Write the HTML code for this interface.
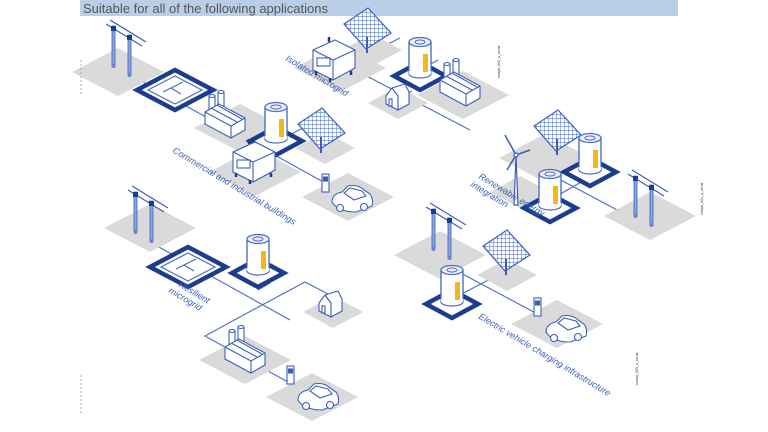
<!DOCTYPE html>
<html><head><meta charset="utf-8"><style>
html,body{margin:0;padding:0;background:#fff;}
svg{display:block;}
text{font-family:"Liberation Sans",sans-serif;}
</style></head><body>
<svg width="768" height="432" viewBox="0 0 768 432" xmlns="http://www.w3.org/2000/svg">
<defs>
  <pattern id="grid" width="4" height="4" patternUnits="userSpaceOnUse">
    <rect width="4" height="4" fill="#fff"/>
    <path d="M0 0H4M0 0V4" stroke="#3b5fb8" stroke-width="0.9"/>
  </pattern>
  <g id="tile"><polygon points="-46,0 0,-24 46,0 0,24" fill="#dadada"/></g>
  <g id="stile"><polygon points="-30,0 0,-16 30,0 0,16" fill="#dadada"/></g>
  <g id="switch">
    <polygon points="-38,0 0,-20 38,0 0,20" fill="#fff" stroke="#1c3c8e" stroke-width="4.5"/>
    <polygon points="-27,0 0,-14 27,0 0,14" fill="#fff" stroke="#4a6cc0" stroke-width="1.2"/>
    <path d="M-12,2 L-4,-2 L6,4 M-4,-2 L8,-8" stroke="#4a6cc0" stroke-width="1.2" fill="none"/>
  </g>
  <g id="battery">
    <polygon points="-26,0 0,-14 26,0 0,14" fill="#fff" stroke="#1c3c8e" stroke-width="4.5"/>
    <rect x="-11" y="-34" width="22" height="32" fill="#fff" stroke="#4a6cc0" stroke-width="1.2"/>
    <ellipse cx="0" cy="-2" rx="11" ry="4" fill="#fff" stroke="#4a6cc0" stroke-width="1.2"/>
    <rect x="-11" y="-12" width="22" height="10" fill="#fff"/>
    <ellipse cx="0" cy="-34" rx="11" ry="4.5" fill="#eef" stroke="#4a6cc0" stroke-width="1.2"/>
    <ellipse cx="0" cy="-34" rx="5" ry="2" fill="none" stroke="#4a6cc0" stroke-width="1"/>
    <rect x="3" y="-22" width="5" height="18" fill="#f2b817"/>
    <path d="M-11,-34 V-5 M11,-34 V-5" stroke="#4a6cc0" stroke-width="1.2"/>
  </g>
  <g id="solar">
    <polygon points="-22,-16 2,-32 25,-7 0,9" fill="url(#grid)" stroke="#3b5fb8" stroke-width="1.2"/>
    <path d="M1,-3 V13" stroke="#3b5fb8" stroke-width="2"/>
  </g>
  <g id="pole">
    <path d="M-14,-18 L22,4" stroke="#3b5fb8" stroke-width="1.2"/>
    <path d="M-10,-22 L26,0" stroke="#3b5fb8" stroke-width="1.2"/>
    <rect x="-8" y="-16" width="3" height="40" fill="#8ea6d8" stroke="#3b5fb8" stroke-width="0.8"/>
    <rect x="8" y="-7" width="3" height="40" fill="#8ea6d8" stroke="#3b5fb8" stroke-width="0.8"/>
    <path d="M-9,-16 h5 v5 h-5z M7,-7 h5 v5 h-5z" fill="#1c3c8e"/>
    <circle cx="-6.5" cy="24" r="2" fill="#6c84c4"/><circle cx="9.5" cy="33" r="2" fill="#6c84c4"/>
  </g>
  <g id="factory" fill="#fff" stroke="#3b5fb8" stroke-width="1.1">
    <rect x="-16" y="-24" width="6" height="14"/><ellipse cx="-13" cy="-24" rx="3" ry="1.5"/>
    <rect x="-7" y="-28" width="6" height="16"/><ellipse cx="-4" cy="-28" rx="3" ry="1.5"/>
    <polygon points="-20,-8 -6,-16 20,-2 20,10 6,18 -20,4"/>
    <path d="M-20,-8 L6,6 L20,-2 M6,6 V18 M-14,-12 L12,2 M-8,-15 L17,-1"/>
  </g>
  <g id="gen" fill="#fff" stroke="#3b5fb8" stroke-width="1.1">
    <polygon points="-20,-14 2,-24 22,-14 22,4 0,16 -20,6"/>
    <path d="M-20,-14 L0,-4 L22,-14 M0,-4 V16"/>
    <rect x="-16" y="-6" width="13" height="8" fill="none"/>
    <path d="M-4,-22 v-5" stroke="#1c3c8e" stroke-width="2.5"/>
    <path d="M-17,7 v4 M-3,14 v4 M18,7 v4" stroke="#1c3c8e" stroke-width="2.5"/>
  </g>
  <g id="house" fill="#fff" stroke="#3b5fb8" stroke-width="1.1">
    <polygon points="-9,-4 -3,-12 3,-4 3,10 -9,4"/>
    <polygon points="3,-4 -3,-12 10,-16 14,-8 14,4 3,10"/>
    <rect x="-6" y="-1" width="3" height="7"/>
  </g>
  <g id="car" fill="#fff" stroke="#3b5fb8" stroke-width="1.1">
    <path d="M-20,2 Q-20,-6 -10,-8 L-4,-14 Q6,-16 12,-10 L18,-6 Q22,0 20,6 L4,12 Q-14,12 -20,2Z"/>
    <path d="M-8,-7 L-2,-12 L10,-9 L14,-4 L2,0Z"/>
    <circle cx="-12" cy="8" r="3.5"/><circle cx="12" cy="7" r="3.5"/>
  </g>
  <g id="charger" fill="#fff" stroke="#3b5fb8" stroke-width="1.1">
    <rect x="-3" y="-14" width="7" height="18"/><rect x="-1.5" y="-11" width="4" height="4" fill="#3b5fb8"/>
  </g>
</defs>

<!-- header -->
<rect x="80" y="0" width="598" height="16" fill="#b9cfe8"/>
<text x="83" y="13" font-size="13" fill="#555">Suitable for all of the following applications</text>

<g stroke="#4a6cc0" stroke-width="1.1" fill="none">
  <path d="M130,75 L365,205"/>
  <path d="M280,140 L322,118"/>
  <path d="M255,165 L270,157"/>
  <path d="M340,62 L470,130 M380,48 L400,38 M420,70 L438,60 M395,100 L412,91"/>
  <path d="M512,180 L550,200 M557,178 L636,220 M550,200 L588,178 M556,150 L590,170"/>
  <path d="M150,242 L290,320 M258,290 L270,283 M262,305 L305,282 L330,295 M262,305 L205,336 L270,372 L320,400"/>
  <path d="M440,262 L560,326 M450,300 L500,274"/>
</g>

<!-- tiles -->
<use href="#tile" x="118" y="72"/>
<use href="#tile" x="240" y="128"/>
<use href="#tile" x="255" y="172"/>
<use href="#tile" x="348" y="197"/>
<use href="#stile" x="325" y="148"/>
<use href="#tile" x="340" y="68"/>
<use href="#stile" x="372" y="50"/>
<use href="#tile" x="463" y="95"/>
<use href="#stile" x="398" y="103"/>
<use href="#tile" x="545" y="158"/>
<use href="#stile" x="520" y="192"/>
<use href="#tile" x="650" y="216"/>
<use href="#tile" x="150" y="228"/>
<use href="#stile" x="333" y="312"/>
<use href="#tile" x="245" y="360"/>
<use href="#tile" x="312" y="397"/>
<use href="#tile" x="440" y="255"/>
<use href="#stile" x="507" y="275"/>
<use href="#tile" x="557" y="324"/>

<!-- scene 1 -->
<use href="#pole" x="120" y="42"/>
<use href="#switch" x="175" y="90"/>
<use href="#factory" x="225" y="120"/>
<use href="#battery" x="276" y="141"/>
<use href="#solar" x="320" y="140"/>
<use href="#gen" x="253" y="166"/>
<use href="#charger" x="325" y="188"/>
<use href="#car" x="352" y="200"/>
<text transform="translate(172,152) rotate(31)" font-size="9" fill="#3b5fb8" font-style="italic">Commercial and industrial buildings</text>

<!-- scene 2 -->
<use href="#gen" x="333" y="64"/>
<use href="#solar" x="366" y="40"/>
<use href="#battery" x="420" y="76"/>
<use href="#factory" x="460" y="88"/>
<use href="#house" x="395" y="100"/>
<text transform="translate(285,60) rotate(31)" font-size="9" fill="#3b5fb8" font-style="italic">Isolated microgrid</text>
<text transform="translate(500,78) rotate(-90)" font-size="3.5" fill="#333">sumps_002_a_serial</text>

<!-- scene 3 -->
<g stroke="#3b5fb8" stroke-width="1.2" fill="#fff">
  <path d="M514,205 L516,155 L518,205Z"/>
  <path d="M516,155 L505,135 M516,155 L530,150 M516,155 L507,170" stroke-width="1.5"/>
  <circle cx="516" cy="155" r="2"/>
</g>
<use href="#solar" x="556" y="142"/>
<use href="#battery" x="590" y="172"/>
<use href="#battery" x="550" y="208"/>
<use href="#pole" x="642" y="192"/>
<text transform="translate(478,178) rotate(31)" font-size="9" fill="#3b5fb8" font-style="italic">Renewable energy</text>
<text transform="translate(470,186) rotate(31)" font-size="9" fill="#3b5fb8" font-style="italic">integration</text>
<text transform="translate(703,215) rotate(-90)" font-size="3.5" fill="#333">sumps_001_a_serial</text>

<!-- scene 4 -->
<use href="#pole" x="142" y="208"/>
<use href="#switch" x="188" y="267"/>
<use href="#battery" x="258" y="273"/>
<use href="#house" x="328" y="307"/>
<use href="#factory" x="245" y="355"/>
<use href="#charger" x="290" y="380"/>
<use href="#car" x="318" y="398"/>
<text transform="translate(178,286) rotate(31)" font-size="9" fill="#3b5fb8" font-style="italic">Resilient</text>
<text transform="translate(168,292) rotate(31)" font-size="9" fill="#3b5fb8" font-style="italic">microgrid</text>

<!-- scene 5 -->
<use href="#pole" x="440" y="225"/>
<use href="#solar" x="505" y="262"/>
<use href="#battery" x="452" y="304"/>
<use href="#charger" x="537" y="312"/>
<use href="#car" x="566" y="330"/>
<text transform="translate(478,318) rotate(31)" font-size="9" fill="#3b5fb8" font-style="italic">Electric vehicle charging infrastructure</text>
<text transform="translate(638,385) rotate(-90)" font-size="3.5" fill="#333">sumps_005_a_serial</text>

<path d="M81,60 v35 M81,375 v40" stroke="#999" stroke-width="0.8" stroke-dasharray="2,2"/>
</svg>
</body></html>
